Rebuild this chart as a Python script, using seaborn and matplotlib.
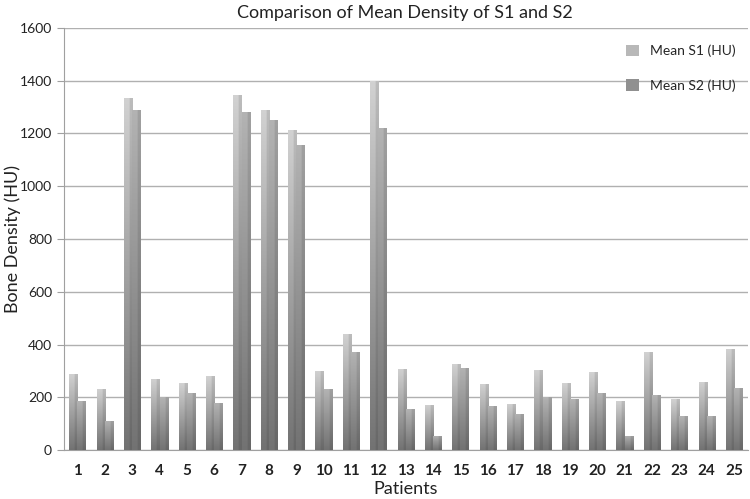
import numpy as np
import pandas as pd
import matplotlib
matplotlib.use("Agg")
import matplotlib.pyplot as plt
import seaborn as sns
from matplotlib.patches import Patch

# values
patients = [str(i) for i in range(1, 26)]
mean_s1 = [290, 233, 1335, 270, 253, 280, 1345, 1288, 1212, 300, 440, 1400, 307,
           172, 328, 252, 175, 305, 253, 295, 185, 370, 192, 258, 383]
mean_s2 = [185, 110, 1290, 200, 215, 180, 1280, 1250, 1158, 230, 372, 1222, 155,
           55, 312, 168, 137, 200, 192, 215, 55, 210, 128, 130, 237]
series = ["Mean S1 (HU)", "Mean S2 (HU)"]
y_ticks = [0, 200, 400, 600, 800, 1000, 1200, 1400, 1600]

df = pd.DataFrame({
    "Patients": patients * 2,
    "value": mean_s1 + mean_s2,
    "series": [series[0]] * 25 + [series[1]] * 25,
})

sns.set_style("white")
plt.rcParams["font.family"] = ["Lato", "DejaVu Sans"]

fig = plt.figure(figsize=(7.5, 4.99), dpi=100)
ax = fig.add_axes([0.085, 0.098, 0.912, 0.846])

sns.barplot(data=df, x="Patients", y="value", hue="series", order=patients,
            hue_order=series, width=0.6, palette=["#bdbdbd", "#9a9a9a"],
            legend=False, ax=ax, zorder=3)

# Excel-like vertical gradient on each bar
tops = {0: (0.82, 0.82, 0.82), 1: (0.70, 0.70, 0.70)}
bottom = np.array([0.45, 0.45, 0.45])
bars = [p for p in ax.patches]
for k, p in enumerate(bars):
    s = 0 if k < 25 else 1
    x0, y0 = p.get_x(), p.get_y()
    w, h = p.get_width(), p.get_height()
    t = np.linspace(0, 1, 64)[:, None, None]
    top = np.array(tops[s])
    img = bottom * (1 - t) + top * t
    img = np.repeat(img, 16, axis=1)
    img[:, 10:, :] *= 0.9
    im = ax.imshow(img, extent=(x0, x0 + w, y0, y0 + h), origin="lower",
                   aspect="auto", zorder=3, interpolation="bilinear")
    im.set_clip_path(p)
    p.set_facecolor("none")
    p.set_edgecolor("none")

ax.set_xlim(-0.5, 24.5)
ax.set_ylim(0, 1600)
ax.set_yticks(y_ticks)
ax.yaxis.grid(True, color="#b0b0b0", linewidth=1, zorder=0)
ax.set_axisbelow(True)

for side in ["top", "right"]:
    ax.spines[side].set_visible(False)
for side in ["left", "bottom"]:
    ax.spines[side].set_color("#a0a0a0")

ax.set_xticks(range(25))
ax.set_xticklabels(patients, fontsize=11, fontweight="bold", color="#222222")
ax.set_xticks(np.arange(0.5, 24.6, 1), minor=True)
ax.tick_params(axis="x", which="major", length=0, pad=10)
ax.tick_params(axis="x", which="minor", length=5, color="#a0a0a0", direction="out")
ax.tick_params(axis="y", length=5, color="#a0a0a0", direction="out", labelsize=10,
               labelcolor="#222222", left=True)

ax.set_xlabel("Patients", fontsize=13, color="#222222", labelpad=2)
ax.set_ylabel("Bone Density (HU)", fontsize=13, color="#222222")
ax.yaxis.set_label_coords(-0.062, 0.5)
fig.suptitle("Comparison of Mean Density of S1 and S2", fontsize=13, y=0.99,
             x=0.54, color="#222222")

handles = [Patch(facecolor="#b8b8b8", edgecolor="none"),
           Patch(facecolor="#909090", edgecolor="none")]
ax.legend(handles, series, loc="upper right", bbox_to_anchor=(1.0, 0.99),
          frameon=False, fontsize=10, labelspacing=1.6, handlelength=0.9,
          handleheight=0.9)

fig.savefig("out.png", dpi=100)
